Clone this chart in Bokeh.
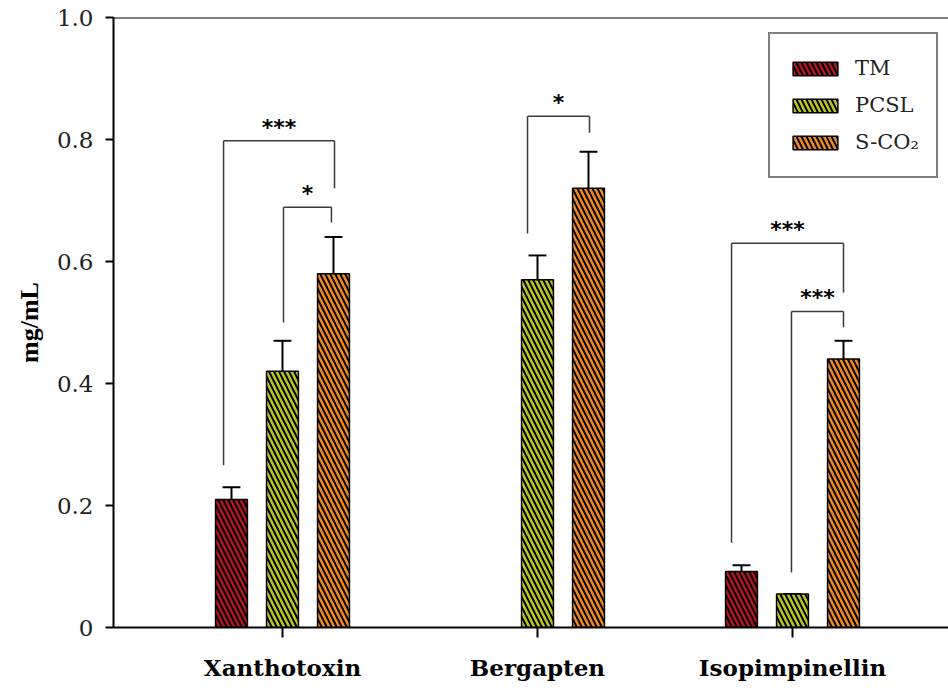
import numpy as np
from bokeh.plotting import figure
from bokeh.models import (ColumnDataSource, FixedTicker, Span, Legend, LegendItem)
from bokeh.core.properties import value
from bokeh.embed import file_html
from bokeh.resources import INLINE

# ---- data ----
categories = ["Xanthotoxin", "Bergapten", "Isopimpinellin"]
series = ["TM", "PCSL", "S-CO\u2082"]
tm_vals = [0.21, np.nan, 0.092]
tm_err = [0.02, np.nan, 0.01]
pcsl_vals = [0.42, 0.57, 0.055]
pcsl_err = [0.05, 0.04, 0.0]
sco2_vals = [0.58, 0.72, 0.44]
sco2_err = [0.06, 0.06, 0.03]
y_ticks = [0, 0.2, 0.4, 0.6, 0.8, 1.0]
y_tick_labels = ["0", "0.2", "0.4", "0.6", "0.8", "1.0"]

# significance brackets: (group index, left offset, right offset, top, left leg bottom, right leg bottom, label)
brackets = [
    (0, -0.231, 0.204, 0.798, 0.266, 0.720, "***"),
    (0, 0.004, 0.192, 0.689, 0.500, 0.664, "*"),
    (1, -0.039, 0.204, 0.838, 0.646, 0.811, "*"),
    (2, -0.239, 0.200, 0.630, 0.139, 0.549, "***"),
    (2, -0.004, 0.200, 0.518, 0.090, 0.492, "***"),
]

colors = ["#B3161C", "#BAC91B", "#F48A20"]
offsets = [-0.2, 0.0, 0.2]
bar_w = 0.125
cap_half = 0.035

FONT = "DejaVu Serif"

p = figure(width=948, height=688, output_backend="svg", toolbar_location=None,
           x_range=(0.3373, 3.6118), y_range=(0, 1.0),
           min_border_left=113, min_border_right=0, min_border_top=17, min_border_bottom=61)
p.outline_line_color = None
p.grid.visible = False
p.background_fill_color = "white"
p.border_fill_color = "white"

group_x = [1, 2, 3]
all_vals = [tm_vals, pcsl_vals, sco2_vals]
all_errs = [tm_err, pcsl_err, sco2_err]
legend_items = []
for k, (vals, errs) in enumerate(zip(all_vals, all_errs)):
    xs, tops, ups = [], [], []
    for g, v, e in zip(group_x, vals, errs):
        if v is None or np.isnan(v):
            continue
        xs.append(g + offsets[k])
        tops.append(v)
        ups.append(v + e)
    src = ColumnDataSource(dict(x=xs, top=tops, up=ups,
                                cl=[x - cap_half for x in xs], cr=[x + cap_half for x in xs]))
    # error bars (upper only)
    p.segment(x0="x", y0="top", x1="x", y1="up", source=src, line_color="black", line_width=2)
    p.segment(x0="cl", y0="up", x1="cr", y1="up", source=src, line_color="black", line_width=2)
    r = p.vbar(x="x", top="top", width=bar_w, bottom=0, source=src,
               fill_color=colors[k], line_color="black", line_width=1.5,
               hatch_pattern="left_diagonal_line", hatch_color="black",
               hatch_weight=2, hatch_scale=10)
    legend_items.append(LegendItem(label=series[k], renderers=[r]))

# brackets
bx0, by0, bx1, by1 = [], [], [], []
sx, sy, st = [], [], []
for g, lo, ro, top, lb, rb, lab in brackets:
    xl = group_x[g] + lo
    xr = group_x[g] + ro
    bx0 += [xl, xl, xr]
    by0 += [top, lb, top]
    bx1 += [xr, xl, xr]
    by1 += [top, top, rb]
    sx.append((xl + xr) / 2)
    sy.append(top + 0.002)
    st.append(lab)
p.segment(x0=bx0, y0=by0, x1=bx1, y1=by1, line_color="#3a3a3a", line_width=1.5)
p.text(x=sx, y=sy, text=st, text_align="center", text_baseline="bottom",
       text_font=value("DejaVu Sans"), text_font_size="22px", text_font_style="bold",
       text_color="black")

# top frame line
p.add_layout(Span(location=1.0, dimension="width", line_color="black", line_width=2))

# axes
xa = p.xaxis[0]
xa.ticker = FixedTicker(ticks=group_x)
xa.major_label_overrides = {g: c for g, c in zip(group_x, categories)}
xa.major_label_text_font = FONT
xa.major_label_text_font_style = "bold"
xa.major_label_text_font_size = "23px"
xa.major_label_text_color = "black"
xa.major_tick_in = 0
xa.major_tick_out = 10
xa.minor_tick_line_color = None
xa.major_label_standoff = 16
xa.axis_line_width = 2
xa.major_tick_line_width = 2

ya = p.yaxis[0]
ya.ticker = FixedTicker(ticks=y_ticks)
ya.major_label_overrides = {t: l for t, l in zip(y_ticks, y_tick_labels)}
ya.major_label_text_font = FONT
ya.major_label_text_font_size = "23px"
ya.major_label_text_color = "#222222"
ya.major_tick_in = 0
ya.major_tick_out = 8
ya.minor_tick_line_color = None
ya.major_label_standoff = 12
ya.axis_line_width = 2
ya.major_tick_line_width = 2
ya.axis_label = "mg/mL"
ya.axis_label_text_font = "Liberation Serif"
ya.axis_label_text_font_style = "bold"
ya.axis_label_text_font_size = "26px"
ya.axis_label_text_color = "black"
ya.axis_label_standoff = 10

legend = Legend(items=legend_items, location=(655, 449))
legend.label_text_font = FONT
legend.label_text_font_size = "21px"
legend.label_text_color = "#222222"
legend.glyph_width = 56
legend.glyph_height = 17
legend.label_height = 34
legend.spacing = 3
legend.padding = 17
legend.label_standoff = 12
legend.border_line_color = "black"
legend.border_line_width = 2
legend.background_fill_alpha = 1.0
legend.margin = 0
p.add_layout(legend)

open("out.html", "w").write(file_html(p, INLINE))
